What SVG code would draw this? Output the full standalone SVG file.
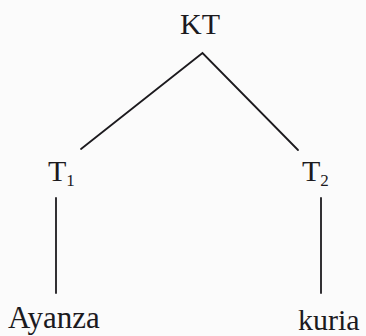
<svg xmlns="http://www.w3.org/2000/svg" width="366" height="336" viewBox="0 0 366 336">
<style>
.t{font-family:"Liberation Serif","Times New Roman",serif;font-size:30px;fill:#1c1a1e}
.s{font-size:17px}
.e{stroke:#1c1a1e;stroke-width:1.8;fill:none;stroke-linecap:round;stroke-linejoin:miter}
</style>
<rect width="366" height="336" fill="#fbfbfb"/>
<g id="edges">
<polyline class="e" points="81,149 202.5,53 298,150"/>
<line class="e" x1="56" y1="198" x2="56" y2="293"/>
<line class="e" x1="321" y1="198" x2="321" y2="293"/>
</g>
<g id="KT"><text class="t" x="200" y="34" text-anchor="middle">KT</text></g>
<g id="T1"><text class="t" x="48" y="181">T<tspan class="s" dy="5">1</tspan></text></g>
<g id="T2"><text class="t" x="302" y="181">T<tspan class="s" dy="5">2</tspan></text></g>
<g id="Ayanza"><text class="t" x="8" y="328" style="font-size:31px">Ayanza</text></g>
<g id="kuria"><text class="t" x="298" y="330">kuria</text></g>
</svg>
